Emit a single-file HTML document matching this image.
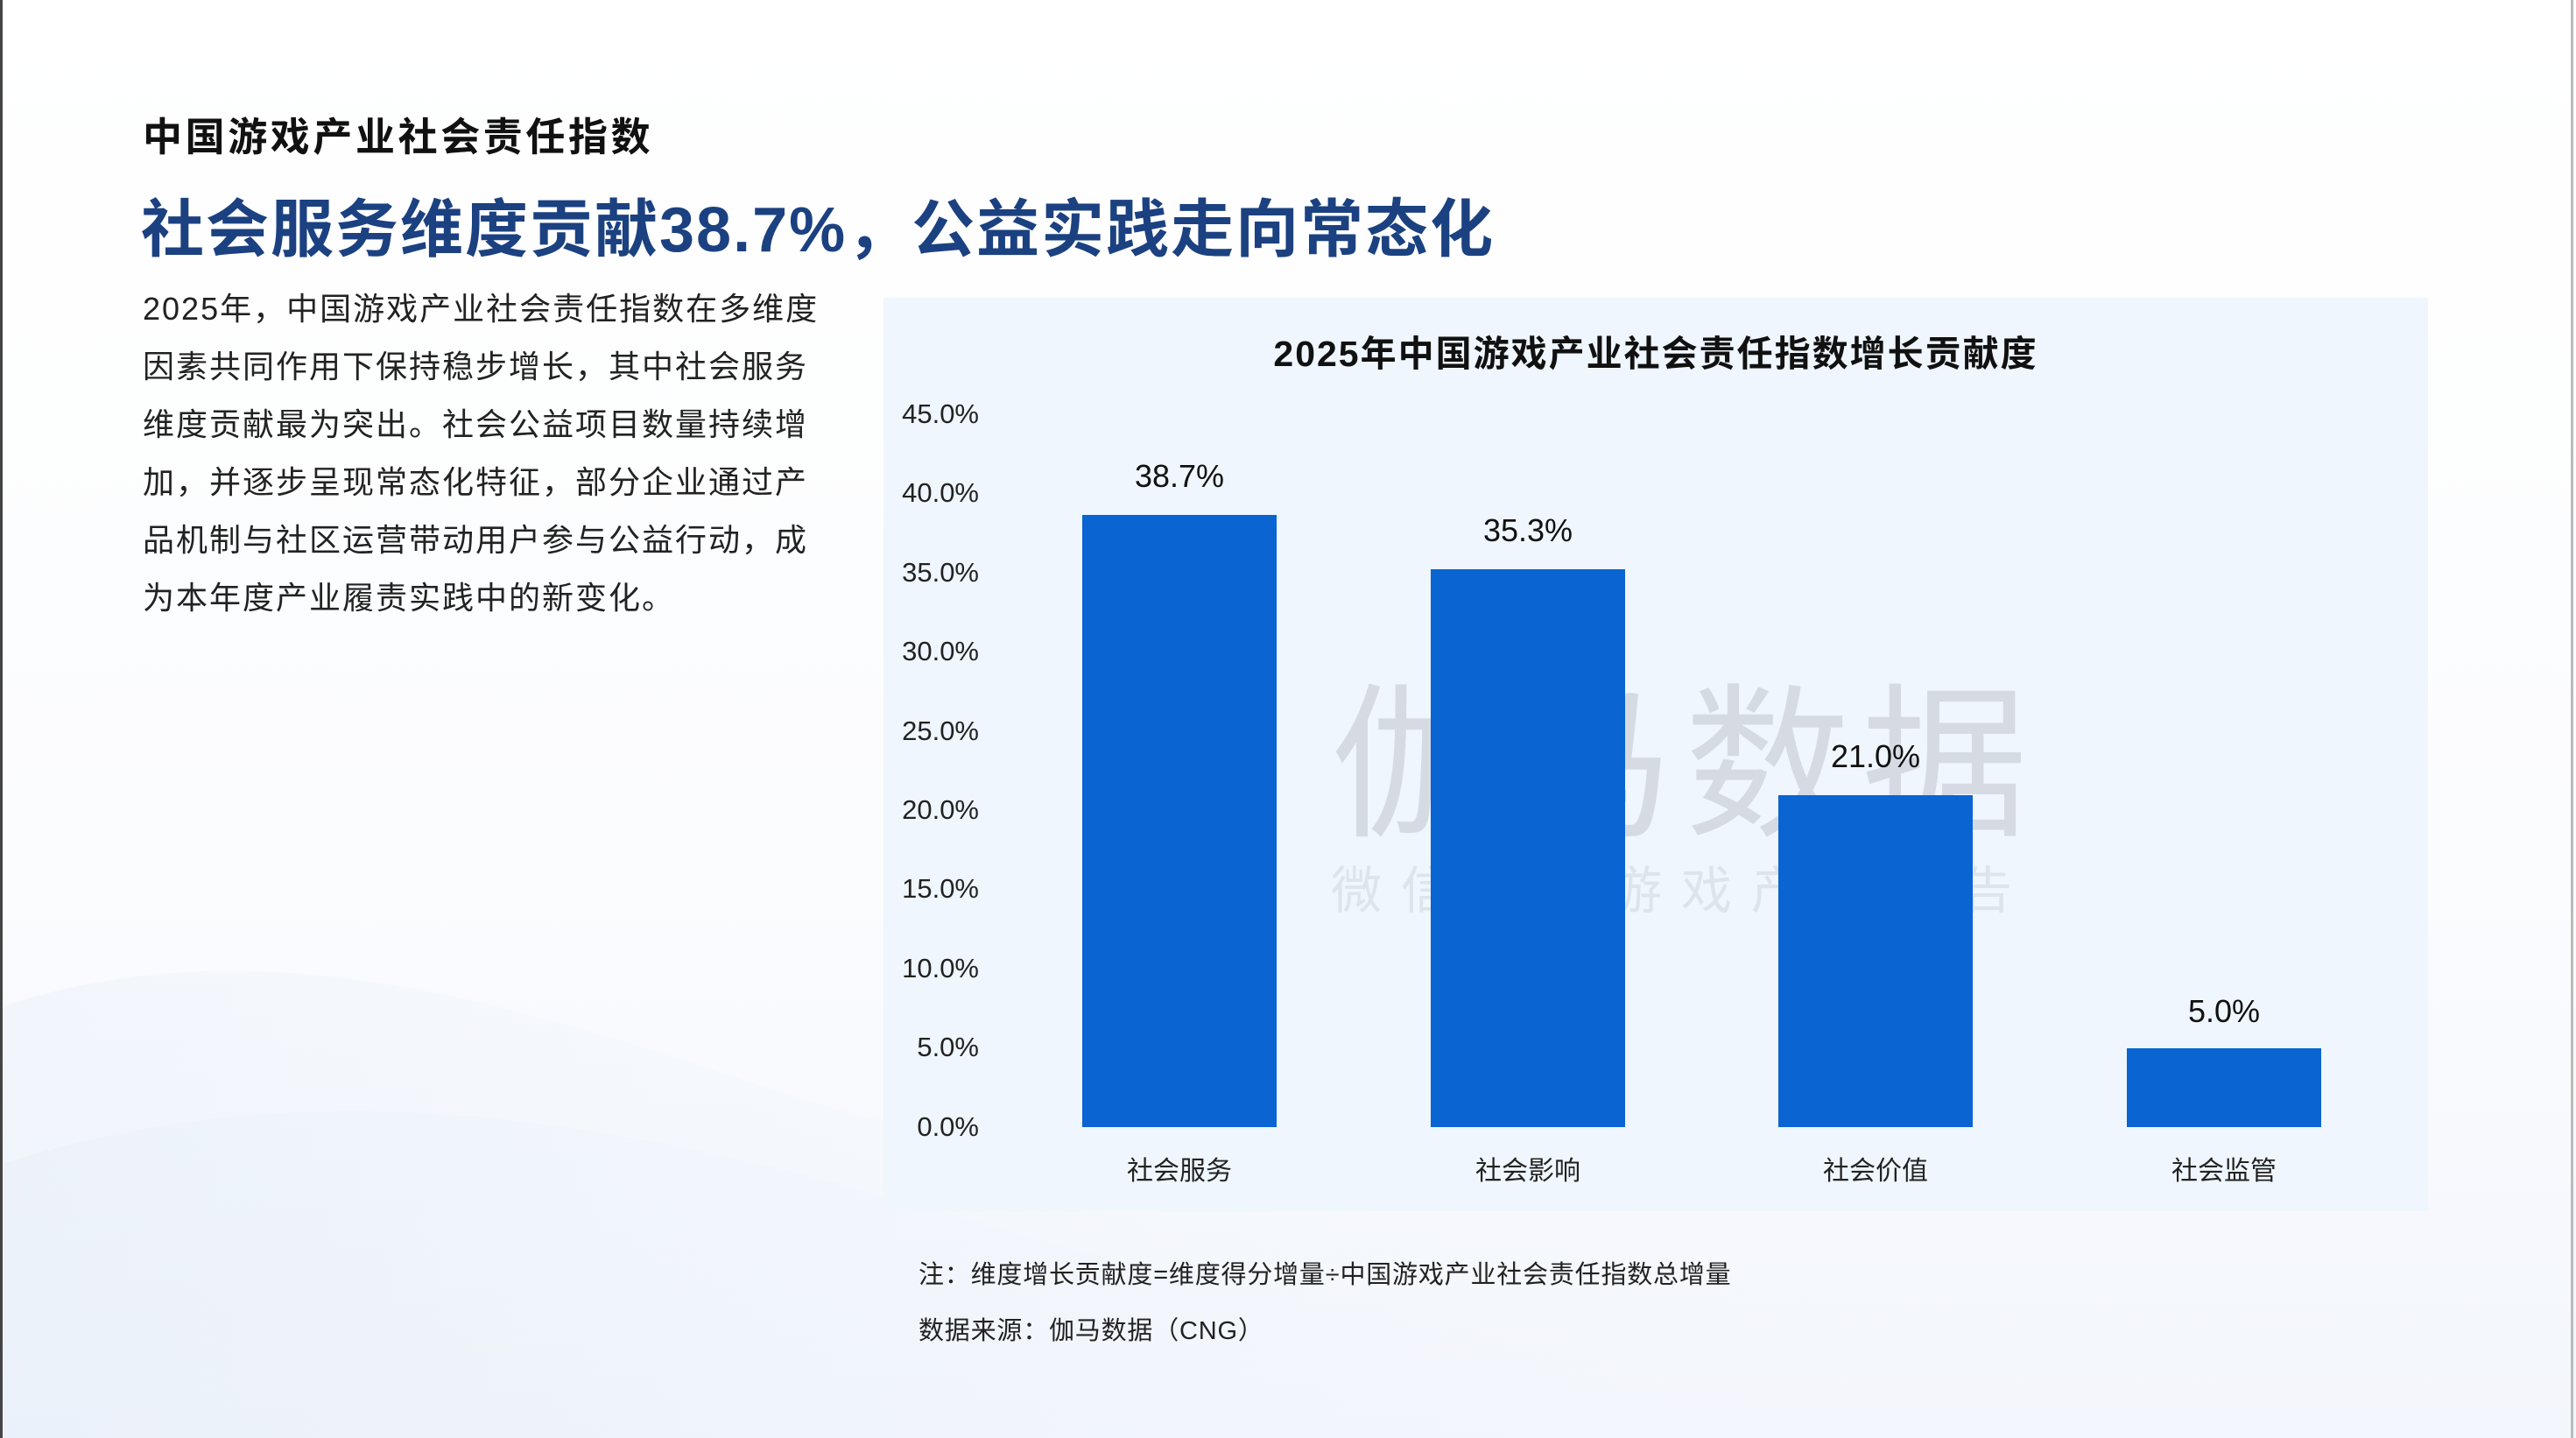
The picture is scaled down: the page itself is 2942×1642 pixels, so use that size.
<!DOCTYPE html>
<html><head><meta charset="utf-8"><style>
html,body{margin:0;padding:0}
body{width:2942px;height:1642px;position:relative;overflow:hidden;background:linear-gradient(180deg,#ffffff 0%,#fbfcfe 60%,#f3f6fc 100%);font-family:"Liberation Sans","Noto Sans CJK SC",sans-serif;}
.abs{position:absolute;white-space:nowrap}
</style></head><body>
<svg class="abs" style="left:0;top:0" width="2942" height="1642">
<defs><linearGradient id="w" x1="0" y1="0" x2="1" y2="0"><stop offset="0" stop-color="#e3ecf8" stop-opacity="0.8"/><stop offset="1" stop-color="#eef3fb" stop-opacity="0"/></linearGradient></defs>
<path d="M0 1150 C300 1050 600 1150 900 1250 C1200 1350 1500 1300 1900 1200 L1900 1642 L0 1642Z" fill="url(#w)" opacity="0.4"/>
<path d="M0 1330 C400 1200 800 1300 1200 1420 C1500 1500 1800 1480 2100 1400 L2100 1642 L0 1642Z" fill="url(#w)" opacity="0.35"/>
<rect x="0" y="0" width="3" height="1642" fill="#444"/>
<rect x="2936" y="0" width="3" height="1642" fill="#bbb"/>
<rect x="1009" y="340" width="1764" height="1043" fill="#eff6fd"/>
</svg>
<div class="abs" style="left:163px;top:120px;font-size:45px;font-weight:bold;color:#111;letter-spacing:3.6px">中国游戏产业社会责任指数</div>
<div class="abs" style="left:161px;top:203px;font-size:72px;font-weight:bold;color:#1b4181;letter-spacing:2px">社会服务维度贡献38.7%，公益实践走向常态化</div>
<div class="abs" style="left:163px;top:320px;font-size:36px;letter-spacing:2px;line-height:66px;color:#222;white-space:normal;width:900px">2025年，中国游戏产业社会责任指数在多维度<br>因素共同作用下保持稳步增长，其中社会服务<br>维度贡献最为突出。社会公益项目数量持续增<br>加，并逐步呈现常态化特征，部分企业通过产<br>品机制与社区运营带动用户参与公益行动，成<br>为本年度产业履责实践中的新变化。</div>
<div class="abs" style="left:1009px;width:1764px;top:370px;text-align:center;font-size:41px;font-weight:bold;color:#111;letter-spacing:2px">2025年中国游戏产业社会责任指数增长贡献度</div>
<div class="abs" style="left:1520px;top:720px;font-size:190px;color:#d6dbe3;letter-spacing:12px">伽马数据</div>
<div class="abs" style="left:1520px;top:970px;font-size:58px;color:#dfe4eb;letter-spacing:22px">微信号：游戏产业报告</div>
<div class="abs" style="left:1020px;top:450px;width:98px;text-align:right;font-size:31px;line-height:46px;color:#222">
<div style="position:absolute;right:0;top:0">45.0%</div>
<div style="position:absolute;right:0;top:90px">40.0%</div>
<div style="position:absolute;right:0;top:181px">35.0%</div>
<div style="position:absolute;right:0;top:271px">30.0%</div>
<div style="position:absolute;right:0;top:362px">25.0%</div>
<div style="position:absolute;right:0;top:452px">20.0%</div>
<div style="position:absolute;right:0;top:542px">15.0%</div>
<div style="position:absolute;right:0;top:633px">10.0%</div>
<div style="position:absolute;right:0;top:723px">5.0%</div>
<div style="position:absolute;right:0;top:814px">0.0%</div>
</div>
<svg class="abs" style="left:0;top:0" width="2942" height="1642">
<g fill="#0a64d2">
<rect x="1236" y="588" width="222" height="699"/>
<rect x="1634" y="650" width="222" height="637"/>
<rect x="2031" y="908" width="222" height="379"/>
<rect x="2429" y="1197" width="222" height="90"/>
</g>
<g font-family="Liberation Sans, sans-serif" font-size="36" fill="#111" text-anchor="middle">
<text x="1347" y="556">38.7%</text>
<text x="1745" y="618">35.3%</text>
<text x="2142" y="876">21.0%</text>
<text x="2540" y="1167">5.0%</text>
</g>
<g font-family="Liberation Sans, Noto Sans CJK SC, sans-serif" font-size="30" fill="#222" text-anchor="middle">
<text x="1347" y="1347">社会服务</text>
<text x="1745" y="1347">社会影响</text>
<text x="2142" y="1347">社会价值</text>
<text x="2540" y="1347">社会监管</text>
</g>
</svg>
<div class="abs" style="left:1049px;top:1432px;font-size:29px;color:#222;letter-spacing:0.8px">注：维度增长贡献度=维度得分增量÷中国游戏产业社会责任指数总增量</div>
<div class="abs" style="left:1049px;top:1496px;font-size:29px;color:#222;letter-spacing:0.8px">数据来源：伽马数据（CNG）</div>
</body></html>
